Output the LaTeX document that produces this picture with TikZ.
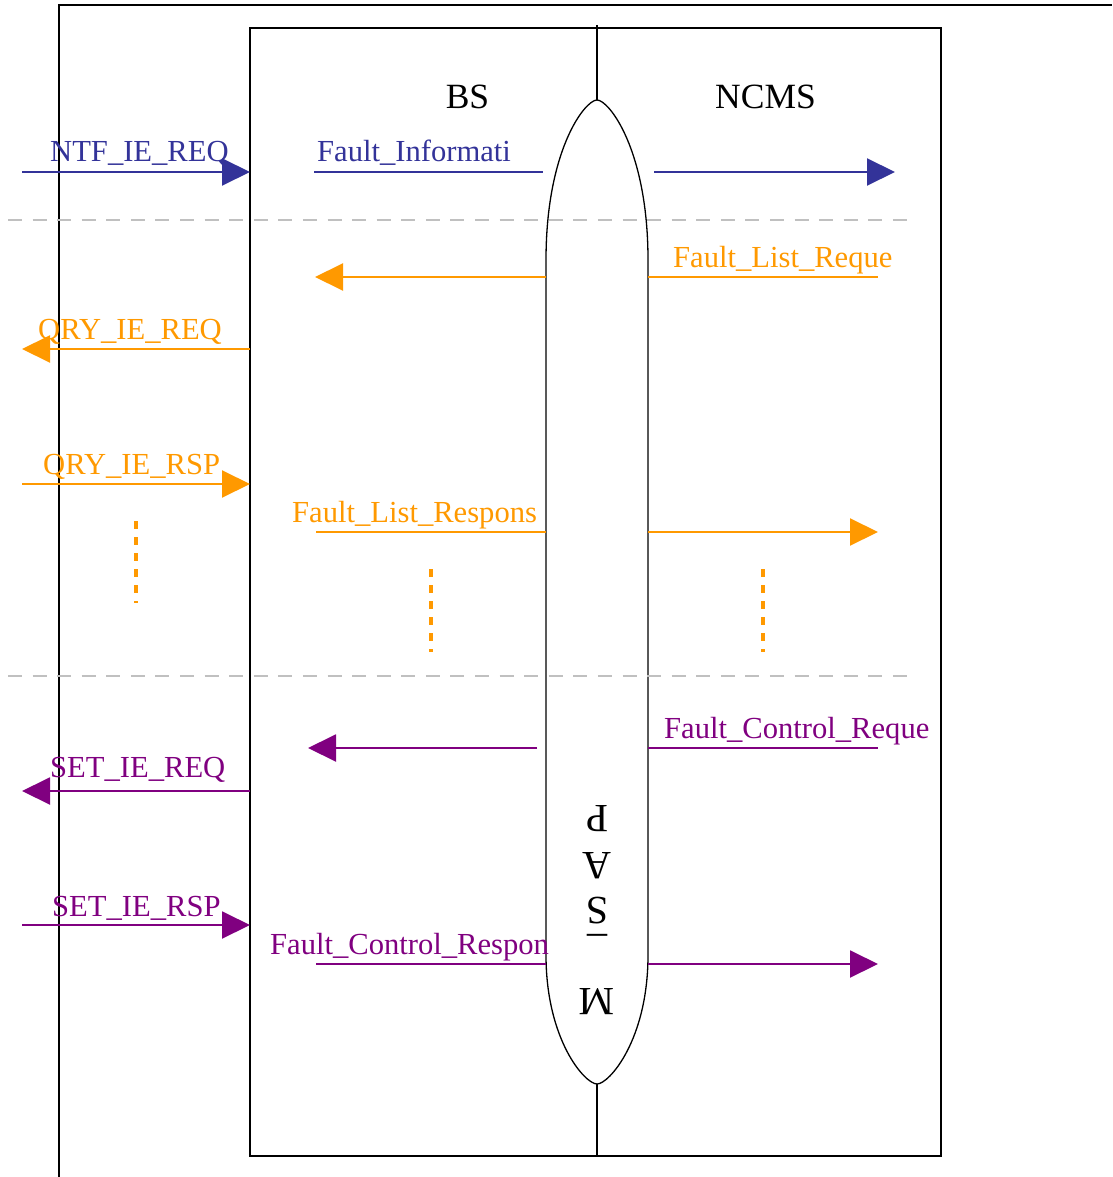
\documentclass[tikz,border=0pt]{standalone}
\usepackage{fontspec}
\setmainfont{Liberation Serif}
\usetikzlibrary{arrows.meta}
\definecolor{cblue}{HTML}{333399}
\definecolor{corange}{HTML}{FF9900}
\definecolor{cpurple}{HTML}{800080}
\definecolor{cgray}{HTML}{C0C0C0}
\begin{document}
\begin{tikzpicture}[x=1pt,y=-1pt,
  frame/.style={line width=1.5pt, black},
  msg/.style={line width=2pt},
  tipped/.style={-{Triangle[length=28pt,width=27pt]}},
  lbl/.style={font=\fontsize{30.6}{36}\selectfont, inner sep=0pt, anchor=base west},
  ttl/.style={font=\fontsize{35.5}{40}\selectfont, inner sep=0pt, anchor=base},
  sepline/.style={cgray, line width=2.5pt, dash pattern=on 14pt off 10.58pt},
  dotline/.style={line width=4pt, dash pattern=on 8pt off 8pt},
  letter/.style={font=\fontsize{40}{44}\selectfont, inner sep=0pt, rotate=180}
]
\useasboundingbox (0,0) rectangle (1112,1177);
% frames
\draw[frame] (59,1177) -- (59,5) -- (1112,5);
\draw[frame] (250,28) rectangle (941,1156);
\draw[line width=1.2pt] (597,25) -- (597,1156);
% MSAP capsule
\coordinate (msapc) at (597,592);
\draw[line width=1.3pt, fill=white]
  (546,260) .. controls (546,150) and (585,100) .. (597,100)
  .. controls (609,100) and (648,150) .. (648,260)
  -- (648,955) .. controls (648,1040) and (609,1084) .. (597,1084)
  .. controls (585,1084) and (546,1040) .. (546,955)
  -- cycle;

% titles
\node[ttl] (bs) at (467.5,109) {BS};
\node[ttl] (ncms) at (765.5,109) {NCMS};

% separators
\coordinate (s1a) at (8,220); \coordinate (s1b) at (907,220);
\coordinate (s2a) at (8,676); \coordinate (s2b) at (907,676);
\draw[sepline] (s1a) -- (s1b);
\draw[sepline] (s2a) -- (s2b);

% MSAP letters (rotated)
\node[letter] (lp) at (597,819) {P};
\node[letter] (la) at (597,866) {A};
\node[letter] (ls) at (597,911) {S};
\node[letter, anchor=base] (lu) at (597,939) {\_};
\node[letter] (lm) at (597,1002) {M};

% coordinates
\coordinate (b1a) at (22,172);  \coordinate (b1b) at (250,172);
\coordinate (b2a) at (314,172); \coordinate (b2b) at (543,172);
\coordinate (b3a) at (654,172); \coordinate (b3b) at (895,172);

\coordinate (o1a) at (648,277); \coordinate (o1b) at (878,277);
\coordinate (o2a) at (546,277); \coordinate (o2b) at (315,277);
\coordinate (o3a) at (250,349); \coordinate (o3b) at (22,349);
\coordinate (o4a) at (22,484);  \coordinate (o4b) at (250,484);
\coordinate (o5a) at (316,532); \coordinate (o5b) at (546,532);
\coordinate (o6a) at (648,532); \coordinate (o6b) at (878,532);
\coordinate (d1a) at (136,521); \coordinate (d1b) at (136,603);
\coordinate (d2a) at (431,569); \coordinate (d2b) at (431,652);
\coordinate (d3a) at (763,569); \coordinate (d3b) at (763,652);

\coordinate (p1a) at (648,748); \coordinate (p1b) at (878,748);
\coordinate (p2a) at (537,748); \coordinate (p2b) at (308,748);
\coordinate (p3a) at (250,791); \coordinate (p3b) at (22,791);
\coordinate (p4a) at (22,925);  \coordinate (p4b) at (250,925);
\coordinate (p5a) at (316,964); \coordinate (p5b) at (546,964);
\coordinate (p6a) at (648,964); \coordinate (p6b) at (878,964);

% blue
\draw[msg, cblue, tipped] (b1a) -- (b1b);
\draw[msg, cblue] (b2a) -- (b2b);
\draw[msg, cblue, tipped] (b3a) -- (b3b);
% orange
\draw[msg, corange] (o1a) -- (o1b);
\draw[msg, corange, tipped] (o2a) -- (o2b);
\draw[msg, corange, tipped] (o3a) -- (o3b);
\draw[msg, corange, tipped] (o4a) -- (o4b);
\draw[msg, corange] (o5a) -- (o5b);
\draw[msg, corange, tipped] (o6a) -- (o6b);
\draw[dotline, corange] (d1a) -- (d1b);
\draw[dotline, corange] (d2a) -- (d2b);
\draw[dotline, corange] (d3a) -- (d3b);
% purple
\draw[msg, cpurple] (p1a) -- (p1b);
\draw[msg, cpurple, tipped] (p2a) -- (p2b);
\draw[msg, cpurple, tipped] (p3a) -- (p3b);
\draw[msg, cpurple, tipped] (p4a) -- (p4b);
\draw[msg, cpurple] (p5a) -- (p5b);
\draw[msg, cpurple, tipped] (p6a) -- (p6b);

% labels
\node[lbl, cblue] (t1) at (50,162) {NTF\_IE\_REQ};
\node[lbl, cblue] (t2) at (317,162) {Fault\_Informati};
\node[lbl, corange] (t3) at (673,267) {Fault\_List\_Reque};
\node[lbl, corange] (t4) at (38,339) {QRY\_IE\_REQ};
\node[lbl, corange] (t5) at (43,474) {QRY\_IE\_RSP};
\node[lbl, corange] (t6) at (292,522) {Fault\_List\_Respons};
\node[lbl, cpurple] (t7) at (664,738) {Fault\_Control\_Reque};
\node[lbl, cpurple] (t8) at (50,777) {SET\_IE\_REQ};
\node[lbl, cpurple] (t9) at (52,916) {SET\_IE\_RSP};
\node[lbl, cpurple] (t10) at (270,954) {Fault\_Control\_Respon};
\end{tikzpicture}
\end{document}
